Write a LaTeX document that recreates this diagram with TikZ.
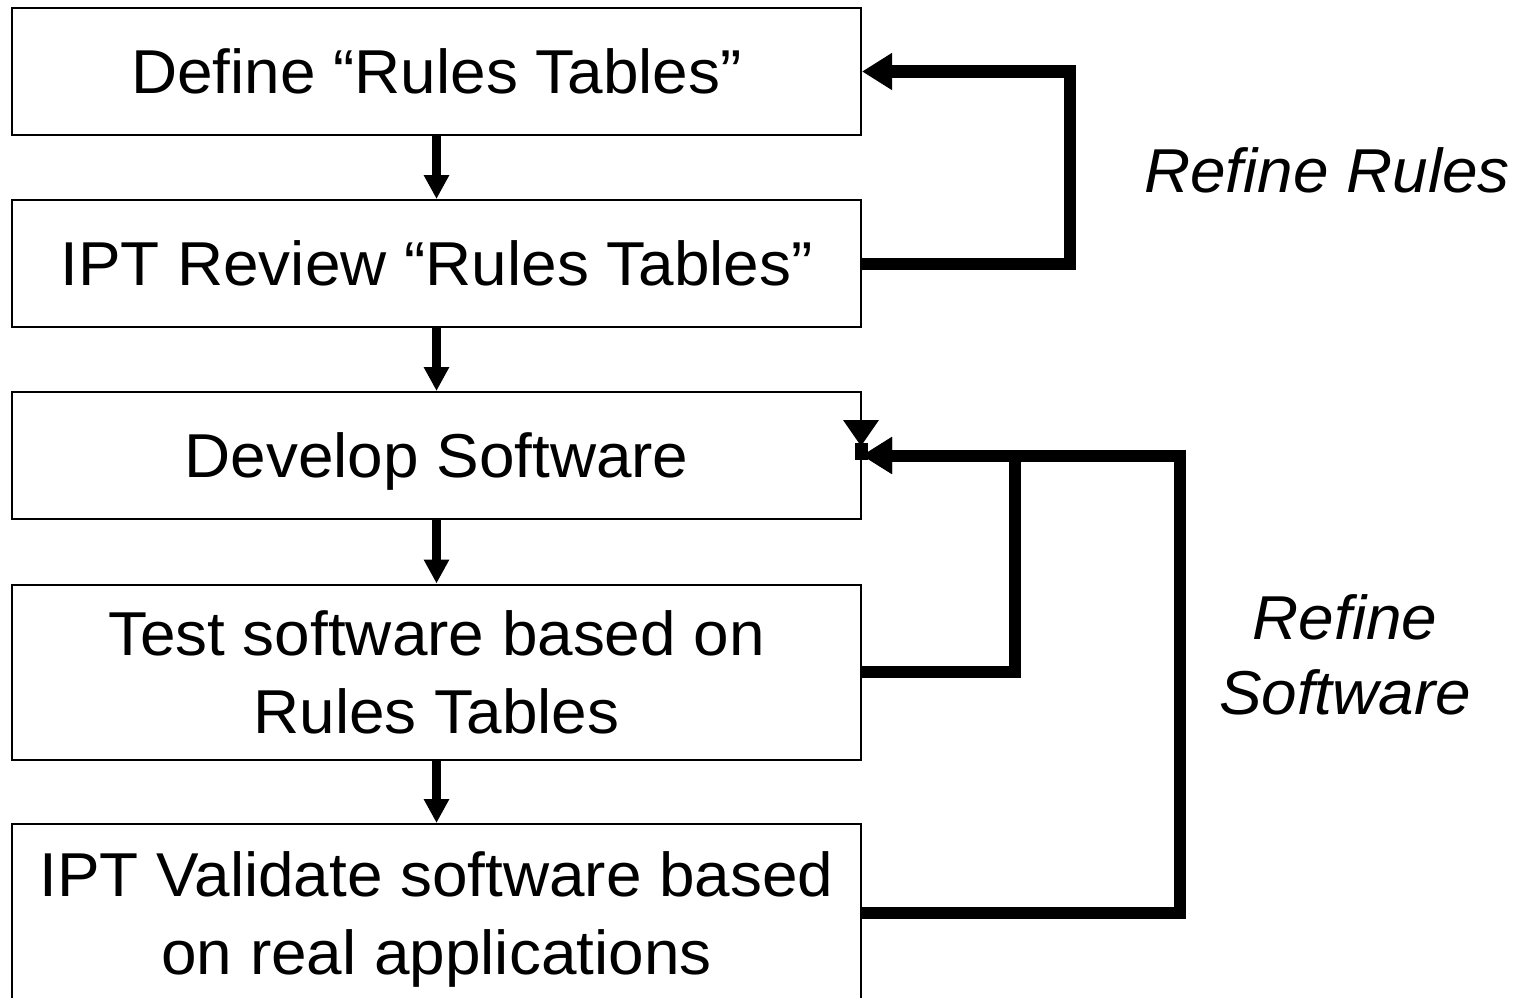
\documentclass[tikz,border=0pt]{standalone}
\usepackage{fontspec}
\setmainfont[FakeStretch=1.03]{Liberation Sans}
\usetikzlibrary{arrows.meta}
\begin{document}
\begin{tikzpicture}[x=1pt,y=-1pt,
  box/.style={draw=black,line width=2pt,minimum width=849pt,align=center,inner sep=0pt,
    text depth=0pt,font=\fontsize{62}{77.5}\selectfont},
  downarr/.style={line width=9pt,-{Triangle[length=24pt,width=24pt]}},
  fb/.style={line width=12pt,-{Triangle[length=30pt,width=35pt]}},
  lbl/.style={font=\fontsize{62}{75}\selectfont\itshape,align=center,inner sep=0pt,text depth=0pt,anchor=south}]
\useasboundingbox (0,0) rectangle (1528,998);
\node[box,minimum height=127pt] (b1) at (436.5,71.5) {Define “Rules Tables”};
\node[box,minimum height=127pt] (b2) at (436.5,263.5) {IPT Review “Rules Tables”};
\node[box,minimum height=127pt] (b3) at (436.5,455.5) {Develop Software};
\node[box,minimum height=175pt] (b4) at (436.5,672) {Test software based on\\Rules Tables};
\node[box,minimum height=178pt] (b5) at (436.5,913) {IPT Validate software based\\on real applications};
\draw[downarr] (b1.south) -- (b2.north);
\draw[downarr] (b2.south) -- (b3.north);
\draw[downarr] (b3.south) -- (b4.north);
\draw[downarr] (b4.south) -- (b5.north);
\draw[fb] (b2.east) -- (1070,263.5) |- (b1.east);
\draw[fb] (b4.east) -- (1015,672) |- (b3.east);
\draw[fb] (b5.east) -- (1180,913) |- (b3.east);
\fill (843,420) -- (879,420) -- (861,446) -- cycle;
\fill (855,443) rectangle (868,460);
\node[lbl] (l1) at (1327,193) {Refine Rules};
\node[lbl] (l2) at (1345,715) {Refine\\Software};
\end{tikzpicture}
\end{document}
